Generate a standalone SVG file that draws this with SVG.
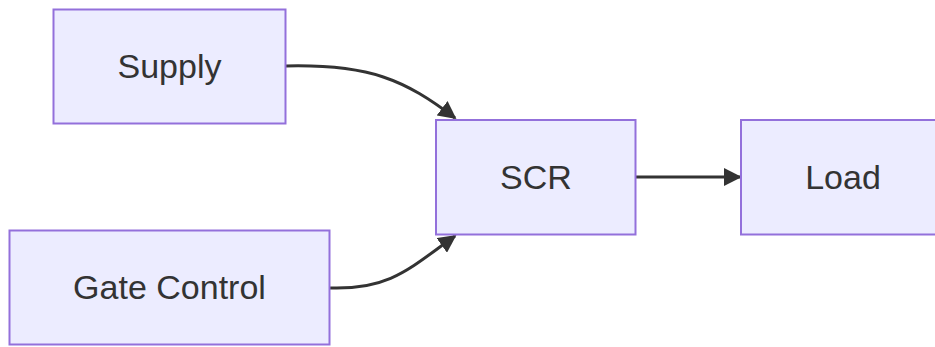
<svg xmlns="http://www.w3.org/2000/svg" width="935" height="347" viewBox="0 0 935 347">
<style>
.node rect{fill:#ECECFF;stroke:#9370DB;stroke-width:2}
.node text{font-family:"Liberation Sans",Arial,sans-serif;font-size:34px;fill:#333333;text-anchor:middle}
.edge{fill:none;stroke:#333333;stroke-width:3}
</style>
<defs>
<marker id="arrow" viewBox="0 0 10 10" refX="9" refY="5" markerUnits="userSpaceOnUse" markerWidth="18" markerHeight="18" orient="auto">
<path d="M0,0 L10,5 L0,10 z" fill="#333333"/>
</marker>
</defs>
<g id="edges">
<path class="edge" d="M286,66 C370,64 405,80 455,118" marker-end="url(#arrow)"/>
<path class="edge" d="M330,288 C390,290 410,268 455,236" marker-end="url(#arrow)"/>
<path class="edge" d="M636,177 L740,177" marker-end="url(#arrow)"/>
</g>
<g id="supply" class="node"><rect x="53.5" y="9.5" width="232" height="114"/><text x="169.5" y="78">Supply</text></g>
<g id="gate" class="node"><rect x="9.5" y="230.5" width="320" height="114"/><text x="169.5" y="299">Gate Control</text></g>
<g id="scr" class="node"><rect x="436" y="120" width="199.5" height="114.5"/><text x="536" y="189">SCR</text></g>
<g id="load" class="node"><rect x="741" y="120" width="204" height="114.5"/><text x="843" y="189">Load</text></g>
</svg>
